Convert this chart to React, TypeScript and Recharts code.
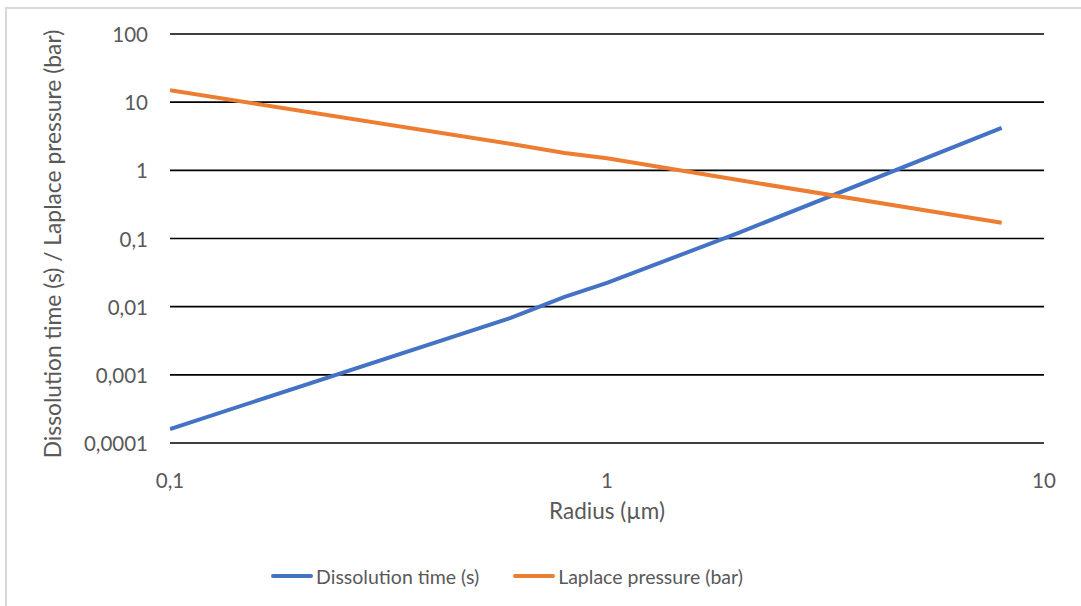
import React from "react";
import { CartesianGrid, Legend, Line, LineChart, XAxis, YAxis } from "recharts";

const radius = [0.1, 0.6, 0.8, 1, 2, 8];
const dissolutionTime = [0.00016, 0.0068, 0.0139, 0.0223, 0.121, 4.2];
const laplacePressure = [15, 2.45, 1.8, 1.5, 0.72, 0.17];

const xTicks = [0.1, 1, 10];
const yTicks = [0.0001, 0.001, 0.01, 0.1, 1, 10, 100];

const data = radius.map((r, i) => ({
  r,
  dissolution: dissolutionTime[i],
  laplace: laplacePressure[i],
}));

const FONT = "Lato, 'Open Sans', sans-serif";
const TEXT = "#595959";
const BLUE = "#4472C4";
const ORANGE = "#ED7D31";

const fmt = (v: number) => String(v).replace(".", ",");

function XTick({ x, y, payload }: any) {
  return (
    <text x={x} y={y + 35} textAnchor="middle" dominantBaseline="central" fill={TEXT} fontSize={20.5} fontFamily={FONT}>
      {fmt(payload.value)}
    </text>
  );
}

function YTick({ x, y, payload }: any) {
  return (
    <text x={x} y={y} textAnchor="end" dominantBaseline="central" fill={TEXT} fontSize={20.5} fontFamily={FONT}>
      {fmt(payload.value)}
    </text>
  );
}

function LegendContent() {
  const items = [
    { label: "Dissolution time (s)", color: BLUE },
    { label: "Laplace pressure (bar)", color: ORANGE },
  ];
  return (
    <div style={{ height: 40, display: "flex", justifyContent: "center", alignItems: "center", gap: 34, paddingRight: 30, fontFamily: FONT, fontSize: 19.5, color: TEXT }}>
      {items.map((it) => (
        <div key={it.label} style={{ display: "flex", alignItems: "center" }}>
          <div style={{ width: 42, height: 4, borderRadius: 2, background: it.color, marginRight: 3 }} />
          <span>{it.label}</span>
        </div>
      ))}
    </div>
  );
}

export default function App() {
  return (
    <div style={{ position: "absolute", left: 0, top: 0, width: 1081, height: 606, background: "#fff" }}>
      <div style={{ position: "absolute", left: 5, top: 7, right: 0, bottom: 0, borderTop: "2px solid #d9d9d9", borderLeft: "2px solid #d9d9d9" }} />
      <LineChart width={1081} height={606} data={data} margin={{ top: 34, right: 37, bottom: 10, left: 0 }}>
        <CartesianGrid vertical={false} stroke="#000" strokeWidth={1.6} />
        <XAxis
          dataKey="r"
          type="number"
          scale="log"
          domain={[0.1, 10]}
          ticks={xTicks}
          allowDataOverflow
          axisLine={false}
          tickLine={false}
          tickSize={0}
          tick={<XTick />}
          height={113}
          label={{ value: "Radius (µm)", position: "insideTop", offset: 60, fill: TEXT, fontSize: 22.5, fontFamily: FONT }}
        />
        <YAxis
          type="number"
          scale="log"
          domain={[0.0001, 100]}
          ticks={yTicks}
          allowDataOverflow
          axisLine={false}
          tickLine={false}
          tickSize={0}
          tickMargin={22}
          width={170}
          tick={<YTick />}
          label={() => (
            <text x={52} y={244} transform="rotate(-90 52 244)" textAnchor="middle" dominantBaseline="central" fill={TEXT} fontSize={22.8} fontFamily={FONT}>
              Dissolution time (s) / Laplace pressure (bar)
            </text>
          )}
        />
        <Legend verticalAlign="bottom" content={<LegendContent />} wrapperStyle={{ bottom: 10 }} />
        <Line dataKey="dissolution" stroke={BLUE} strokeWidth={4} dot={false} isAnimationActive={false} />
        <Line dataKey="laplace" stroke={ORANGE} strokeWidth={4} dot={false} isAnimationActive={false} />
      </LineChart>
    </div>
  );
}
